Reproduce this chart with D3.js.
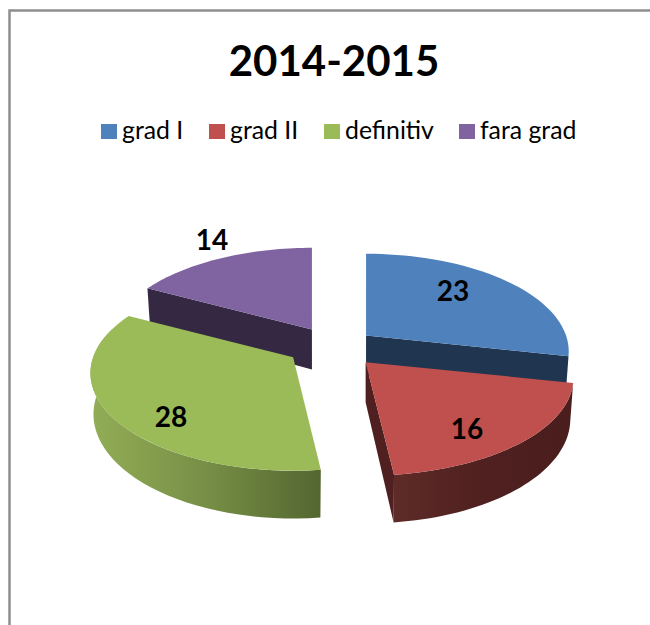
<!DOCTYPE html>
<html>
<head>
<meta charset="utf-8">
<style>
  html, body { margin: 0; padding: 0; background: #fff; }
  svg { display: block; }
</style>
</head>
<body>
<div class="canvas"></div>
<script src="https://cdnjs.cloudflare.com/ajax/libs/d3/7.8.5/d3.min.js"></script>
<script>
const title = "2014-2015";
const categories = ["grad I", "grad II", "definitiv", "fara grad"];
const values = [23, 16, 28, 14];

const colors = ["#4f81bd", "#c0504d", "#9bbb59", "#8064a2"];
const faceColors = ["#1f3550", "#4f201f", "#566a30", "#352842"];

const dims = { width: 650, height: 625 };
const center = { x: 336, y: 347 };
const pieShape = { ry: 95, perspective: 0.163, depth: 40, shrink: 0.985 };
//per slice pull-out and width, the picture is not quite even
const explodeX = [0.193, 0.215, 0.26, 0.233];
const explodeY = [0.193, 0.215, 0.19, 0.215];
const radiusX = [200, 205, 200, 200];

const svg = d3.select(".canvas")
  .append("svg")
  .attr("width", dims.width)
  .attr("height", dims.height);

const font = "Lato, 'Open Sans', sans-serif";

//frame of the chart, only top and left show in the crop
svg.append("path")
  .attr("d", `M9.5,${dims.height}V10.5H${dims.width}`)
  .attr("fill", "none")
  .attr("stroke", "#8e8e8e")
  .attr("stroke-width", 2.5);

svg.append("text")
  .attr("x", 334)
  .attr("y", 76)
  .attr("text-anchor", "middle")
  .attr("font-family", font)
  .attr("font-weight", 700)
  .attr("font-size", 42)
  .text(title);

//legend
const legendX = d3.scaleOrdinal().domain(categories).range([101, 209, 324, 459]);

const legend = svg.append("g")
  .selectAll("g")
  .data(categories)
  .enter()
  .append("g")
  .attr("transform", d => `translate(${legendX(d)},124)`);

legend.append("rect")
  .attr("width", 16)
  .attr("height", 15)
  .attr("fill", (d, i) => colors[i]);

legend.append("text")
  .attr("x", 21)
  .attr("y", 15)
  .attr("font-family", font)
  .attr("font-size", 24.8)
  .text(d => d);

//pie angles, clockwise from the top
const pie = d3.pie().sort(null).value(d => d);
const arcs = pie(values);

//flat pie coords -> screen offset, near side gets bigger
const project = (d, x, y) => {
  const w = 1 - pieShape.perspective * y;
  return [x * radiusX[d.index] / w, y * pieShape.ry / w];
};

const onRim = a => [Math.sin(a), -Math.cos(a)];

const apex = d => {
  const mid = (d.startAngle + d.endAngle) / 2;
  const [x, y] = onRim(mid);
  return [
    center.x + x * explodeX[d.index] * radiusX[d.index],
    center.y + y * explodeY[d.index] * pieShape.ry
  ];
};

const topPoint = (d, a) => {
  const [x, y] = onRim(a);
  const p = project(d, x, y);
  const o = apex(d);
  return [o[0] + p[0], o[1] + p[1]];
};

const bottomPoint = (d, a) => {
  const [x, y] = onRim(a);
  const p = project(d, x * pieShape.shrink, y);
  const w = 1 - pieShape.perspective * y;
  const o = apex(d);
  return [o[0] + p[0], o[1] + p[1] + pieShape.depth / w];
};

const sample = (from, to) => d3.range(0, 41).map(d3.scaleLinear().domain([0, 40]).range([from, to]));

const line = d3.line();

const defs = svg.append("defs");

const addGradient = (id, stops) => {
  const g = defs.append("linearGradient")
    .attr("id", id)
    .attr("x1", 0).attr("x2", 1).attr("y1", 0).attr("y2", 0);
  stops.forEach(s => g.append("stop").attr("offset", s[0]).attr("stop-color", s[1]));
};

addGradient("wallRed", [[0, "#5e2b28"], [0.5, "#4f201f"], [1, "#4a1e1d"]]);
addGradient("wallGreen", [[0, "#92ad56"], [0.5, "#778f46"], [1, "#536630"]]);

const graph = svg.append("g");

//walls and faces of one slice
const cutFace = (d, a, fill) => {
  const o = apex(d);
  graph.append("path")
    .attr("d", line([o, topPoint(d, a), bottomPoint(d, a), [o[0], o[1] + pieShape.depth]]) + "Z")
    .attr("fill", fill);
};

const rimWall = (d, from, to, fill) => {
  const upper = sample(from, to).map(a => topPoint(d, a));
  const lower = sample(to, from).map(a => bottomPoint(d, a));
  graph.append("path")
    .attr("d", line(upper.concat(lower)) + "Z")
    .attr("fill", fill);
};

const topFace = d => {
  const rim = sample(d.startAngle, d.endAngle).map(a => topPoint(d, a));
  graph.append("path")
    .attr("class", "arc")
    .attr("d", line([apex(d)].concat(rim)) + "Z")
    .attr("fill", colors[d.index]);
};

//back to front so the near slices cover the far ones
const [blue, red, green, purple] = arcs;

cutFace(purple, purple.startAngle, faceColors[3]);
topFace(purple);

cutFace(blue, blue.endAngle, faceColors[0]);
topFace(blue);

rimWall(green, green.startAngle, Math.PI * 1.6, "url(#wallGreen)");
topFace(green);

cutFace(red, red.endAngle, faceColors[1]);
rimWall(red, red.startAngle, red.endAngle, "url(#wallRed)");
topFace(red);

//value labels sit off the pie, so they go in by slice
const labelPos = d3.scaleOrdinal().domain(categories).range([[453, 291], [467, 429], [171, 417], [212, 240]]);

svg.append("g")
  .selectAll("text")
  .data(arcs)
  .enter()
  .append("text")
  .attr("x", d => labelPos(categories[d.index])[0])
  .attr("y", d => labelPos(categories[d.index])[1])
  .attr("dy", "0.36em")
  .attr("text-anchor", "middle")
  .attr("font-family", font)
  .attr("font-weight", 700)
  .attr("font-size", 28)
  .text(d => d.value);
</script>
</body>
</html>
